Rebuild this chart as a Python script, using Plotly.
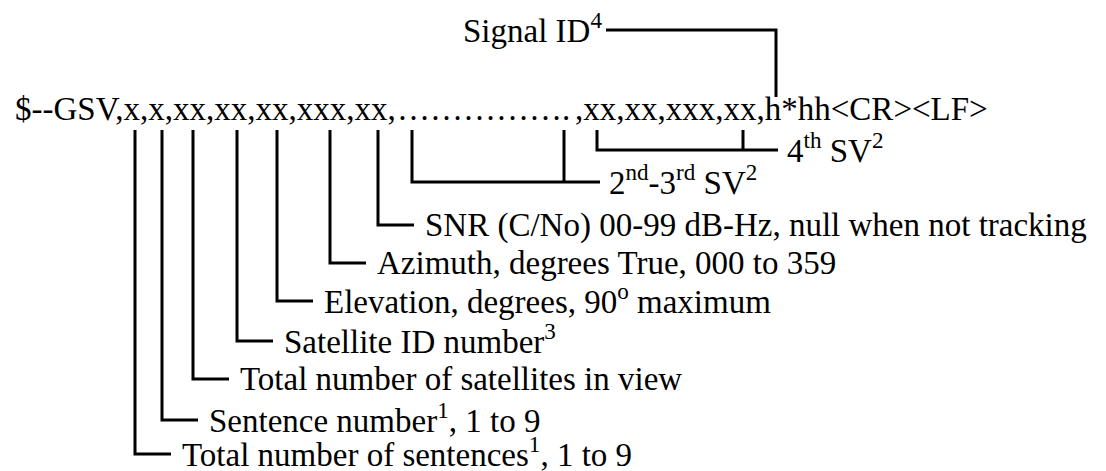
import plotly.graph_objects as go

# ---- diagram content (NMEA GSV sentence layout) ----
header_left = "$--GSV,x,x,xx,xx,xx,xxx,xx,"
header_dots = "……………."
header_right = ",xx,xx,xxx,xx,h*hh&lt;CR&gt;&lt;LF&gt;"

field_labels = [
    "Total number of sentences<sup>1</sup>, 1 to 9",
    "Sentence number<sup>1</sup>, 1 to 9",
    "Total number of satellites in view",
    "Satellite ID number<sup>3</sup>",
    "Elevation, degrees, 90<sup>o</sup> maximum",
    "Azimuth, degrees True, 000 to 359",
    "SNR (C/No) 00-99 dB-Hz, null when not tracking",
]
field_x = [135, 162, 193, 237, 277, 330, 378]      # field position under header
field_level = [454, 420, 379, 341, 301, 263, 225]  # label row

group_labels = ["2<sup>nd</sup>-3<sup>rd</sup> SV<sup>2</sup>", "4<sup>th</sup> SV<sup>2</sup>"]
group_start = [412, 597]
group_end = [564, 743]
group_level = [182, 150]
group_tail = [600, 778]

signal_label = "Signal ID<sup>4</sup>"
signal_x = 776
signal_level = 30
signal_label_end = 606

# ---- styling ----
FONT = dict(family="Liberation Serif, Times New Roman, serif", size=33, color="black")
TOP = 130          # where connectors leave the header
BOTTOM_SIG = 97    # where the signal connector meets the header
LEAD = 36          # length of horizontal leader
GAP = 9
HEADER_Y = 109
SUP_SHIFT = 2
OFF = 8            # page body margin compensation

fig = go.Figure()

# connector lines
xs, ys = [], []
for fx, ly in zip(field_x, field_level):
    xs += [fx, fx, fx + LEAD, None]
    ys += [TOP, ly, ly, None]
for s, e, ly, t in zip(group_start, group_end, group_level, group_tail):
    xs += [s, s, t, None, e, e, None]
    ys += [TOP, ly, ly, None, TOP, ly, None]
xs += [signal_label_end, signal_x, signal_x]
ys += [signal_level, signal_level, BOTTOM_SIG]

fig.add_trace(go.Scatter(x=xs, y=ys, mode="lines",
                         line=dict(color="black", width=3),
                         hoverinfo="skip", showlegend=False))

ann = []
ann.append(dict(x=13, y=HEADER_Y, text=header_left, xanchor="left"))
ann.append(dict(x=395, y=HEADER_Y, text=header_dots, xanchor="left"))
ann.append(dict(x=573, y=HEADER_Y, text=header_right, xanchor="left"))
for lab, fx, ly in zip(field_labels, field_x, field_level):
    ann.append(dict(x=fx + LEAD + GAP, y=ly, text=lab, xanchor="left"))
for lab, ly, t in zip(group_labels, group_level, group_tail):
    ann.append(dict(x=t + GAP - 2, y=ly, text=lab, xanchor="left"))
ann.append(dict(x=signal_label_end - 2, y=signal_level, text=signal_label, xanchor="right"))

for a in ann:
    a.update(xref="x", yref="y", yanchor="middle", showarrow=False, font=FONT,
             yshift=SUP_SHIFT if "<sup>" in a["text"] else 0)

fig.update_layout(
    width=1106, height=471,
    margin=dict(l=0, r=0, t=0, b=0),
    paper_bgcolor="white", plot_bgcolor="white",
    xaxis=dict(range=[OFF, 1106 + OFF], visible=False, fixedrange=True),
    yaxis=dict(range=[471 + OFF, OFF], visible=False, fixedrange=True),
    annotations=ann,
    showlegend=False,
)

fig.write_html("out.html")
